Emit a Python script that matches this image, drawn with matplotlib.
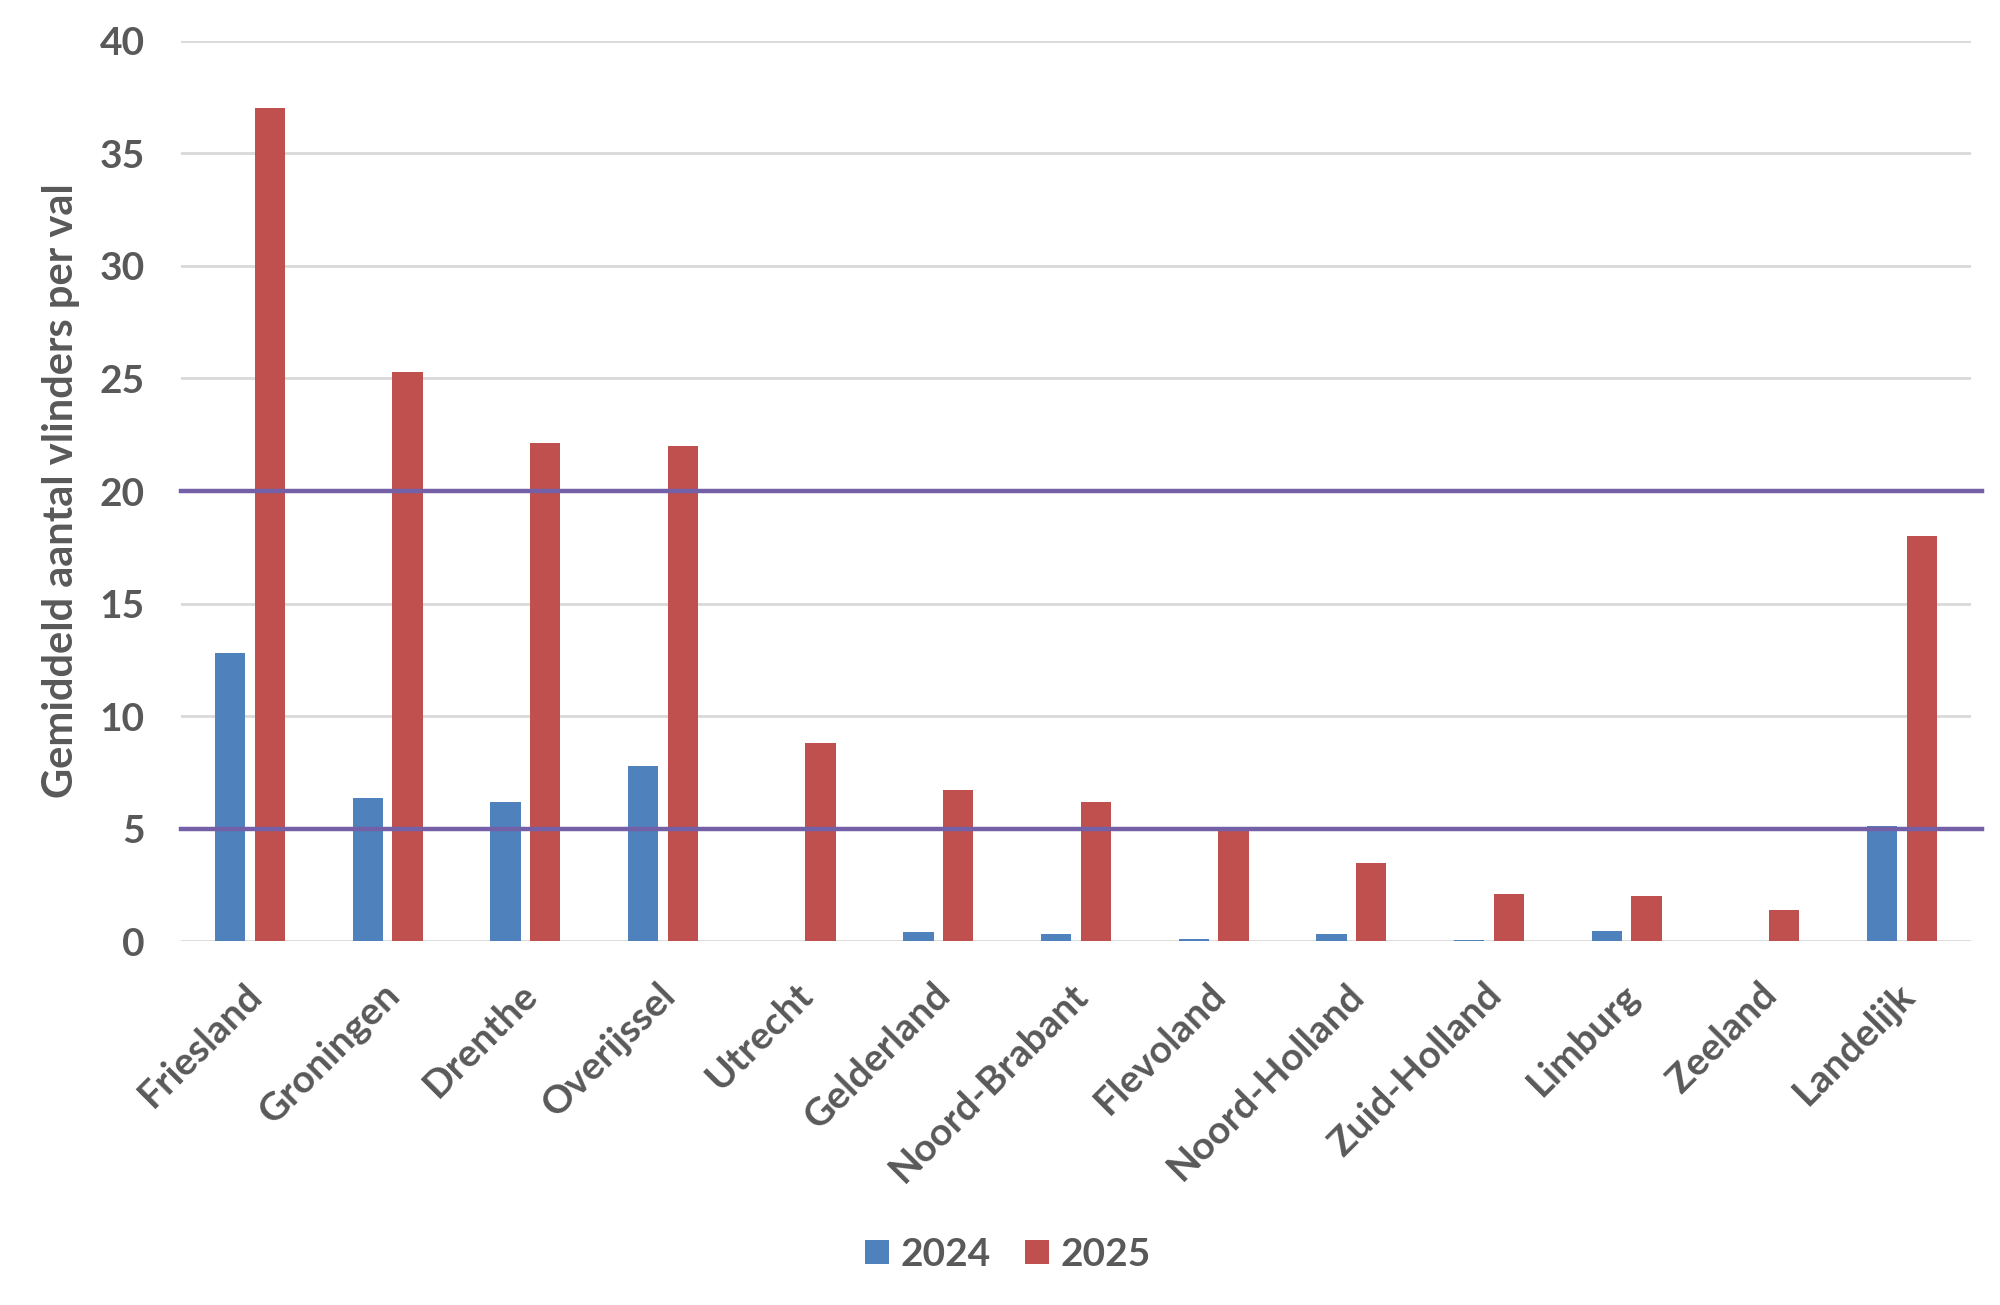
import matplotlib
matplotlib.use("Agg")
import matplotlib.pyplot as plt
import matplotlib.transforms as mtransforms
import numpy as np

categories = ["Friesland", "Groningen", "Drenthe", "Overijssel", "Utrecht", "Gelderland",
              "Noord-Brabant", "Flevoland", "Noord-Holland", "Zuid-Holland", "Limburg",
              "Zeeland", "Landelijk"]
values_2024 = [12.8, 6.35, 6.2, 7.8, 0.0, 0.4, 0.3, 0.1, 0.3, 0.05, 0.45, 0.0, 5.1]
values_2025 = [37.0, 25.3, 22.15, 22.0, 8.8, 6.7, 6.2, 4.95, 3.45, 2.1, 2.0, 1.4, 18.0]
series_labels = ["2024", "2025"]
reference_levels = [20, 5]
yticks = [0, 5, 10, 15, 20, 25, 30, 35, 40]
ylabel = "Gemiddeld aantal vlinders per val"

plt.rcParams['font.family'] = ['Lato', 'DejaVu Sans']
plt.rcParams['font.weight'] = 'bold'

text_color = "#595959"
blue = "#4f81bd"
red = "#c0504d"
purple = "#7460a6"

fig = plt.figure(figsize=(20, 13.05), dpi=100)
ax = fig.add_axes([0.0905, 0.2789, 0.895, 0.6897])

x = np.arange(len(categories))
w = 0.22
off = 0.144
ax.bar(x - off, values_2024, width=w, color=blue, label=series_labels[0], zorder=3)
ax.bar(x + off, values_2025, width=w, color=red, label=series_labels[1], zorder=3)

for lvl in reference_levels:
    ax.axhline(lvl, xmin=0, xmax=1.006, color=purple, lw=3.2, zorder=4, clip_on=False)

ax.set_xlim(-0.5, len(categories) - 0.5)
ax.set_ylim(0, 40)
ax.set_yticks(yticks)
ax.yaxis.grid(True, color="#d9d9d9", lw=2, zorder=0)
ax.set_axisbelow(True)
for s in ax.spines.values():
    s.set_visible(False)
ax.tick_params(axis='both', length=0, labelcolor=text_color)
ax.tick_params(axis='y', pad=26, labelsize=28)
ax.set_xticks(x)
ax.set_xticklabels(categories, rotation=45, ha='right', va='top',
                   rotation_mode='anchor', fontsize=28, fontweight='bold', color=text_color)
ax.tick_params(axis='x', pad=28)
shift = mtransforms.ScaledTranslation(-6 / 100, 3 / 100, fig.dpi_scale_trans)
for lab in ax.get_xticklabels():
    lab.set_fontweight('bold')
    lab.set_transform(lab.get_transform() + shift)
for lab in ax.get_yticklabels():
    lab.set_fontweight('bold')

ax.set_ylabel(ylabel, fontsize=30, fontweight='bold', color=text_color, labelpad=14)

fig.legend(loc='center', bbox_to_anchor=(0.504, 0.039), ncol=2, frameon=False,
           handlelength=0.6, handleheight=0.6, handletextpad=0.3,
           columnspacing=0.9, prop={'weight': 'bold', 'size': 28})
for t in fig.legends[0].get_texts():
    t.set_color(text_color)

fig.savefig("out.png", dpi=100, facecolor="white")
